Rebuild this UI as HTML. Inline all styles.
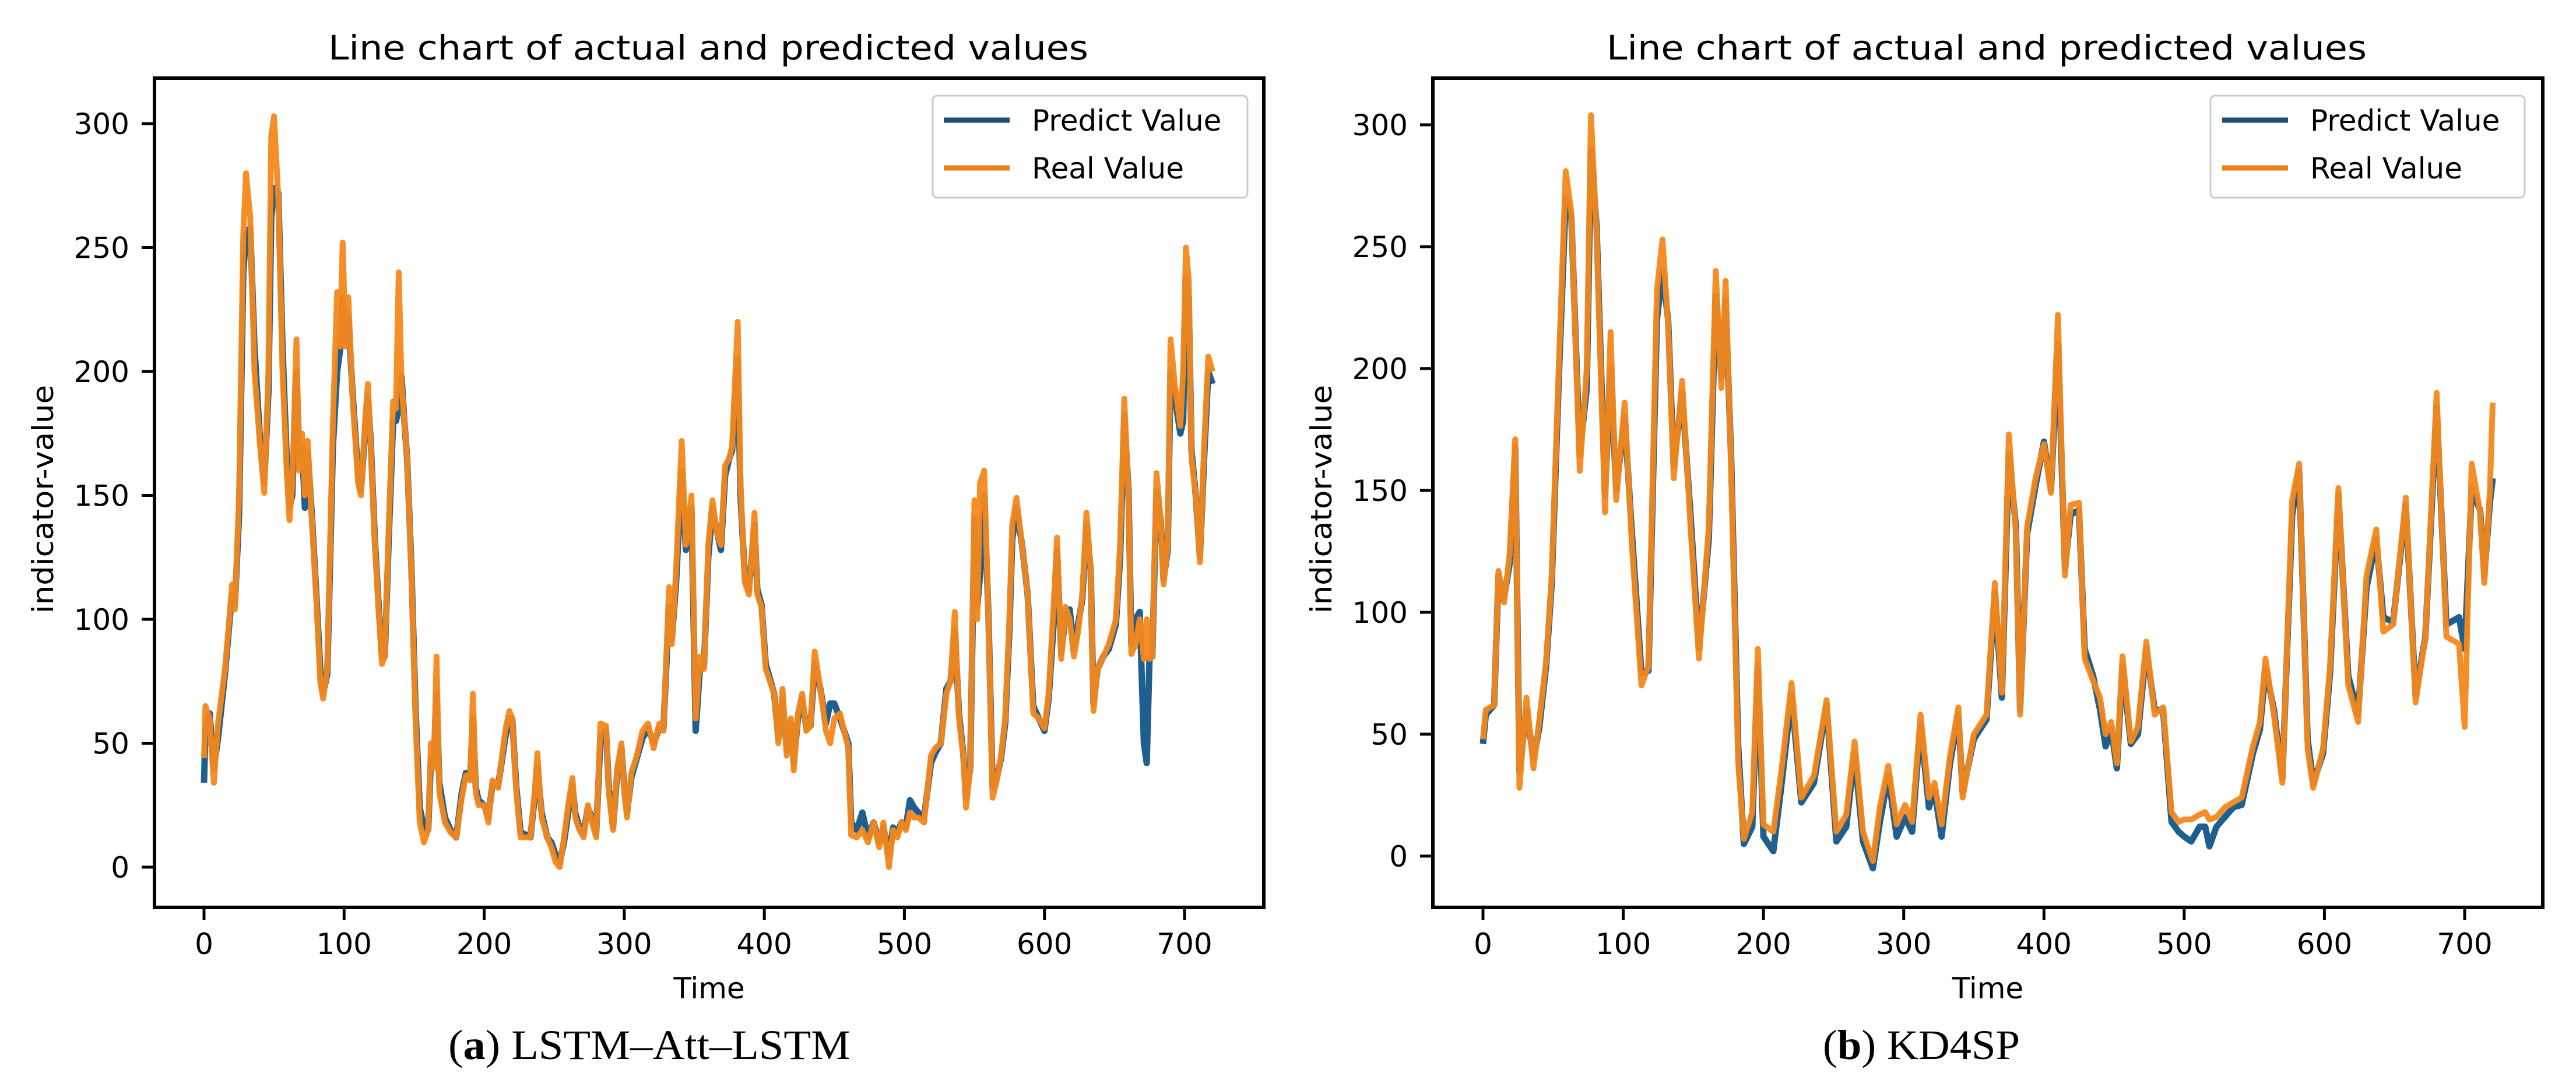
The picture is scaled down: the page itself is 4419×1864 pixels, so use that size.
<!DOCTYPE html>
<html><head><meta charset="utf-8">
<style>
html,body{margin:0;padding:0;background:#fff;}
svg{display:block;}
.tick{font-family:"DejaVu Sans","Liberation Sans",sans-serif;font-size:50px;fill:#000;}
.ttl{font-family:"DejaVu Sans","Liberation Sans",sans-serif;font-size:58px;fill:#000;}
.cap{font-family:"Liberation Serif",serif;font-size:72px;fill:#000;}
</style></head>
<body>
<svg id="fig" width="4419" height="1864" viewBox="0 0 4419 1864" xmlns="http://www.w3.org/2000/svg"></svg>
<script>
// ---- Panel (a) LSTM-Att-LSTM data ----
const aTime = [0,1,4,7,10,15,18,20,22,25,28,30,33,36,40,43,46,48,50,53,56,59,61,63,66,68,70,72,74,77,80,83,85,88,92,95,97,99,101,103,106,110,112,115,117,119,122,125,127,129,132,135,137,139,141,143,145,148,151,154,157,160,162,164,166,168,172,176,180,184,187,190,192,194,196,200,203,206,210,215,218,220,223,226,230,233,236,238,241,245,248,251,254,257,260,263,265,268,271,274,277,280,283,287,289,292,295,298,300,302,305,309,313,317,321,325,328,332,334,337,341,344,348,351,354,357,360,363,366,369,372,375,377,381,383,386,389,393,395,398,401,404,407,410,413,416,419,421,424,427,430,433,436,440,444,447,450,454,457,460,462,466,470,474,478,482,485,489,492,495,498,501,504,507,510,514,519,522,526,530,533,536,539,542,544,547,550,552,554,557,560,563,566,569,572,575,577,580,584,588,592,596,600,603,607,609,612,615,618,621,624,627,630,633,635,638,642,646,651,654,657,660,662,665,668,671,673,675,677,680,683,685,688,690,693,697,699,701,703,705,708,711,714,717,720];
const aReal = [44,65,60,34,58,80,100,114,104,150,255,280,262,200,170,151,200,295,303,270,200,160,140,155,213,160,175,150,172,140,110,75,68,80,180,232,210,252,210,230,190,155,150,180,195,170,130,100,82,85,140,188,185,240,195,180,165,120,60,18,10,15,50,40,85,30,18,14,12,28,37,35,70,30,25,25,18,35,32,55,63,60,30,12,12,12,30,46,20,12,8,2,0,12,25,36,20,15,12,25,18,12,58,57,30,15,40,50,30,20,38,45,55,58,48,58,55,113,90,120,172,130,150,60,85,80,130,148,135,130,162,165,170,220,155,115,110,143,110,105,80,75,70,50,72,45,60,39,62,70,55,57,87,72,55,50,60,62,55,48,13,12,15,10,18,8,18,0,15,12,18,15,22,20,20,18,45,48,50,70,75,103,60,45,24,40,148,100,155,160,100,28,35,45,60,100,138,149,130,110,62,60,56,70,110,133,84,105,100,85,95,110,143,120,63,80,85,90,100,130,189,150,86,90,100,84,100,84,85,159,140,114,130,213,195,178,200,250,237,165,150,123,170,206,200,120];
const aPred = [34,55,62,40,52,78,98,110,106,142,240,255,258,210,172,155,192,262,274,272,210,165,145,150,200,165,170,145,168,142,112,80,70,78,170,200,208,230,212,222,192,158,152,176,190,172,132,102,85,85,135,180,180,185,198,180,165,122,64,24,16,15,44,42,70,34,20,15,12,30,38,36,60,32,27,25,20,34,33,52,60,60,32,14,13,12,28,40,22,12,10,5,2,10,22,33,22,16,14,24,20,14,52,55,32,16,38,48,32,22,36,44,52,56,50,56,56,105,92,115,160,128,145,55,80,82,125,145,136,128,158,165,168,205,150,118,112,138,112,106,82,76,70,52,68,47,58,42,60,68,56,57,82,72,58,66,66,60,55,50,18,15,22,12,18,10,16,5,16,14,18,16,27,24,22,20,42,46,50,72,75,96,62,46,28,40,140,105,118,150,102,32,36,44,58,96,132,145,130,110,65,60,55,68,102,128,86,102,104,88,98,108,138,120,66,80,85,88,98,125,182,152,90,100,103,50,42,84,85,152,140,116,128,200,190,175,180,238,230,168,150,125,165,200,195,125];

// ---- Panel (b) KD4SP data ----
const bTime = [0,2,8,11,15,19,23,26,31,36,40,45,49,54,59,63,69,74,77,81,87,91,95,101,106,113,118,124,128,132,136,142,148,154,161,166,170,173,177,182,186,192,196,200,207,213,220,227,236,245,252,259,265,271,278,283,289,295,301,306,312,318,322,327,333,339,342,350,359,365,370,375,380,383,388,394,400,405,410,415,419,425,429,435,440,444,448,452,456,462,467,473,479,485,491,496,500,505,511,515,518,523,529,535,541,549,554,558,564,570,577,582,588,592,599,604,610,617,624,630,637,642,649,658,665,672,680,687,696,700,705,711,714,718,720];
const bReal = [48,60,62,117,104,124,171,28,65,36,55,80,115,200,281,264,158,200,304,255,141,215,146,186,129,70,78,232,253,218,155,195,135,81,135,240,192,236,158,38,7,18,85,13,10,36,71,24,33,64,10,17,47,10,-2,20,37,13,21,14,58,24,30,13,41,61,24,50,58,112,67,173,132,58,135,155,169,149,222,115,144,145,81,72,65,50,55,38,82,47,53,88,58,61,18,14,15,15,17,18,15,16,20,22,24,45,55,81,58,30,146,161,44,28,44,78,151,70,55,115,134,92,95,147,63,90,190,90,87,53,161,141,112,150,186];
const bPred = [46,58,62,115,106,120,168,35,60,40,52,78,112,195,270,262,165,192,290,258,148,200,150,180,134,75,76,220,240,220,160,190,140,85,130,230,196,228,162,45,5,12,78,8,2,30,66,22,30,62,6,12,42,6,-5,14,33,8,16,10,54,20,27,8,38,58,26,48,56,108,65,165,135,60,132,152,170,150,210,118,140,142,85,74,60,45,52,36,78,46,50,85,60,60,14,10,8,6,12,12,4,12,16,20,21,42,52,77,60,32,140,158,48,30,42,75,148,74,58,110,130,98,96,144,66,90,184,95,98,85,150,142,115,145,155];

const yTicks = [0,50,100,150,200,250,300];
const xTicks = [0,100,200,300,400,500,600,700];

const NS = 'http://www.w3.org/2000/svg';
const svg = document.getElementById('fig');
function mk(tag, attrs, parent){
  const e = document.createElementNS(NS, tag);
  for (const k in attrs) e.setAttribute(k, attrs[k]);
  (parent||svg).appendChild(e);
  return e;
}

const panels = [
  {id:'a', box:[265,134,2168,1556], x0:350, x700:2032, y0:1487, y300:212, tickRight:222, ylabX:73, time:aTime, real:aReal, pred:aPred,
   leg:[1600,164,2140,339,1619,1732,1770], titleX:1215, capX:1114, capA:'(', capB:'a', capC:') LSTM–Att–LSTM', capLen:690},
  {id:'b', box:[2458,134,4362,1556], x0:2544, x700:4228, y0:1468, y300:214, tickRight:2415, ylabX:2266, time:bTime, real:bReal, pred:bPred,
   leg:[3792,164,4331,339,3812,3925,3963], titleX:3408, capX:3296, capA:'(', capB:'b', capC:') KD4SP', capLen:338}
];

panels.forEach(p=>{
  const g = mk('g',{});
  
  
  const xs = t => p.x0 + (p.x700-p.x0)*t/700;
  const ys = v => p.y0 + (p.y300-p.y0)*v/300;
  const [L,T,R,B] = p.box;

  const cp = mk('clipPath',{id:'clip'+p.id}, g);
  mk('rect',{x:L,y:T,width:R-L,height:B-T}, cp);

  const mkPath = (tArr, vArr) => tArr.map((t,i)=>(i?'L':'M')+xs(t).toFixed(1)+','+ys(vArr[i]).toFixed(1)).join('');
  const pp = mk('path',{d:mkPath(p.time,p.pred),fill:'none',stroke:'#1f5f8f','stroke-width':11,'stroke-linejoin':'round','clip-path':'url(#clip'+p.id+')'}, g);
  
  
  const rp = mk('path',{d:mkPath(p.time,p.real),fill:'none',stroke:'#f5881c','stroke-width':10,'stroke-linejoin':'round','stroke-opacity':0.95,'clip-path':'url(#clip'+p.id+')'}, g);
  
  

  const fr = mk('rect',{x:L,y:T,width:R-L,height:B-T,fill:'none',stroke:'#000','stroke-width':6}, g);
  
  

  yTicks.forEach(v=>{
    const y = ys(v);
    mk('line',{x1:L-22,x2:L,y1:y,y2:y,stroke:'#000','stroke-width':5}, g);
    const t = mk('text',{x:p.tickRight,y:y+18,'text-anchor':'end',class:'tick'}, g);
    t.textContent = v;
    
    
  });
  xTicks.forEach(v=>{
    const x = xs(v);
    mk('line',{x1:x,x2:x,y1:B,y2:B+22,stroke:'#000','stroke-width':5}, g);
    const t = mk('text',{x:x,y:1636,'text-anchor':'middle',class:'tick'}, g);
    t.textContent = v;
    
    
  });

  const ti = mk('text',{x:p.titleX,y:102,'text-anchor':'middle',class:'ttl',textLength:1304,lengthAdjust:'spacingAndGlyphs'}, g);
  ti.textContent = 'Line chart of actual and predicted values';
  
  
  const xl = mk('text',{x:(L+R)/2,y:1712,'text-anchor':'middle',class:'tick'}, g);
  xl.textContent = 'Time';
  
  
  const yl = mk('text',{x:0,y:0,'text-anchor':'middle',class:'tick',transform:'translate('+(p.ylabX+18)+',856) rotate(-90)',textLength:392,lengthAdjust:'spacingAndGlyphs'}, g);
  yl.textContent = 'indicator-value';
  
  

  const [lx1,ly1,lx2,ly2,ll1,ll2,ltx] = p.leg;
  const lg = mk('g',{}, g);
  
  
  mk('rect',{x:lx1,y:ly1,width:lx2-lx1,height:ly2-ly1,rx:8,fill:'#fff','fill-opacity':0.9,stroke:'#ccc','stroke-width':3}, lg);
  [['Predict Value','#1f4f70',206],['Real Value','#f07e1a',288]].forEach(e=>{
    const en = mk('g',{}, lg);
    
    
    mk('line',{x1:ll1,x2:ll2,y1:e[2],y2:e[2],stroke:e[1],'stroke-width':9}, en);
    const t = mk('text',{x:ltx,y:e[2]+18,class:'tick'}, en);
    t.textContent = e[0];
  });

  const cap = mk('text',{x:p.capX,y:1816,'text-anchor':'middle',class:'cap',textLength:p.capLen,lengthAdjust:'spacingAndGlyphs'}, g);
  
  
  const s1 = mk('tspan',{}, cap); s1.textContent = p.capA;
  const s2 = mk('tspan',{'font-weight':'bold'}, cap); s2.textContent = p.capB;
  const s3 = mk('tspan',{}, cap); s3.textContent = p.capC;
});
</script>
</body></html>
